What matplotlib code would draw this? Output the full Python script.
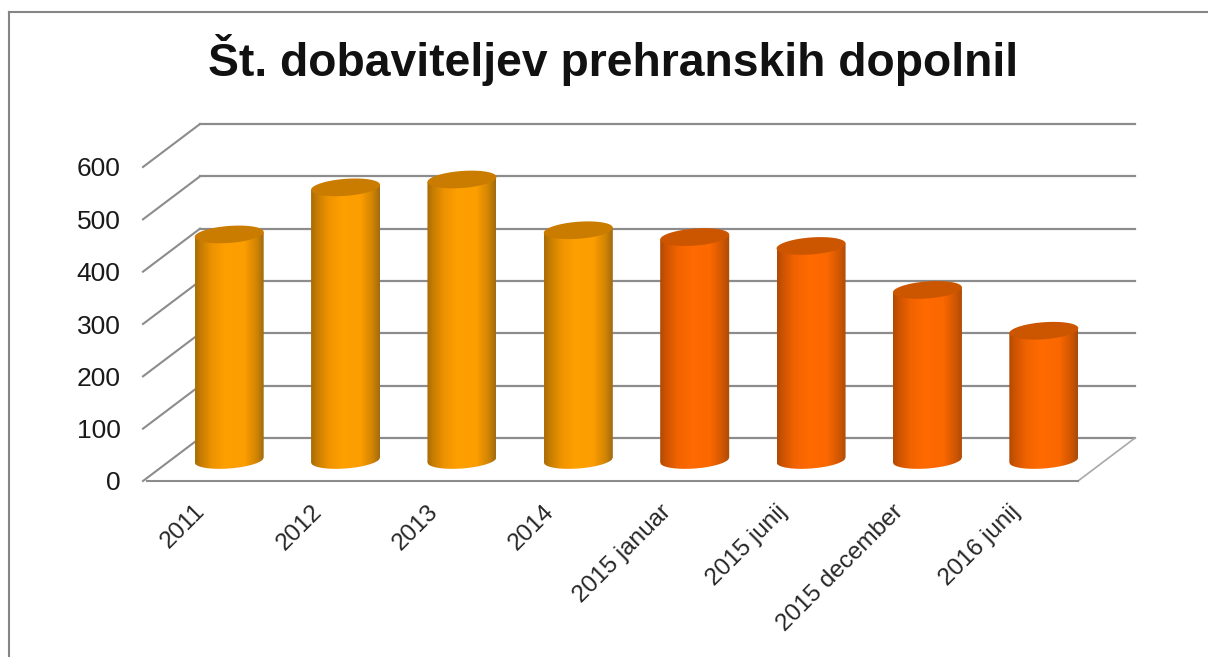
import numpy as np
import matplotlib
matplotlib.use("Agg")
import matplotlib.pyplot as plt
from matplotlib.colors import LinearSegmentedColormap
from matplotlib.patches import PathPatch
from matplotlib.path import Path
from matplotlib.transforms import ScaledTranslation

plt.rcParams["font.family"] = ["Liberation Sans", "DejaVu Sans"]

title = "Št. dobaviteljev prehranskih dopolnil"
categories = ["2011", "2012", "2013", "2014", "2015 januar",
              "2015 junij", "2015 december", "2016 junij"]
suppliers = [431, 521, 536, 439, 426, 409, 325, 247]
y_ticks = [0, 100, 200, 300, 400, 500, 600]

W, H = 1208, 657
fig = plt.figure(figsize=(W / 100, H / 100), dpi=100, facecolor="white")

# Front plane of the pseudo-3D box
ax_l, ax_r, ax_b, ax_t = 147, 1078, 481, 167
ax = fig.add_axes([ax_l / W, 1 - ax_b / H, (ax_r - ax_l) / W, (ax_b - ax_t) / H])
n = len(categories)
ax.set_xlim(0, n)
ax.set_ylim(0, 600)
ax.patch.set_alpha(0)

px_x = n / (ax_r - ax_l)
px_y = 600 / (ax_b - ax_t)

# Depth of the box, and the geometry of the cylinders, in data units
depth_left, depth_right, depth_y = 53 * px_x, 57 * px_x, 43 * px_y
radius = 34.5 * px_x
ry = 8.5 * px_y
tilt = 2.5 * px_y
shift_x, shift_y = 24 * px_x, 21 * px_y

GRID = "#8c8c8c"
for v in y_ticks:
    # back wall and side wall lines
    ax.plot([depth_left, n + depth_right], [v + depth_y] * 2,
            color=GRID, lw=1.6, clip_on=False, zorder=1)
    ax.plot([-4 * px_x, depth_left], [v, v + depth_y],
            color=GRID, lw=1.5, clip_on=False, zorder=1)
ax.plot([n, n + depth_right], [0, depth_y],
        color="#a8a8a8", lw=1.2, clip_on=False, zorder=1)
ax.plot([0, n], [0, 0], color=GRID, lw=1.5, clip_on=False, zorder=1)

cmap_light = LinearSegmentedColormap.from_list(
    "amber", [(0, "#a96c06"), (0.08, "#c47c02"), (0.25, "#ee9300"), (0.45, "#ffa000"),
              (0.72, "#fc9d00"), (0.9, "#cf8303"), (1, "#a06a10")])
cmap_dark = LinearSegmentedColormap.from_list(
    "ember", [(0, "#b04a04"), (0.08, "#cc5300"), (0.25, "#f06300"), (0.45, "#ff6a00"),
              (0.72, "#fb6800"), (0.9, "#cf5602"), (1, "#a84a0a")])
tops = ["#c97c00"] * 4 + ["#cc5500"] * 4
maps = [cmap_light] * 4 + [cmap_dark] * 4

theta = np.linspace(0, 2 * np.pi, 97)
gradient = np.linspace(0, 1, 256)[None, :]

for i, value in enumerate(suppliers):
    cx = i + 0.5 + shift_x
    base = shift_y
    xs = np.linspace(-radius, radius, 80)
    u = xs / radius
    low_bottom = base + tilt * u - ry * np.sqrt(np.clip(1 - u ** 2, 0, 1))

    # side of the cylinder: front rim at the floor up to the centre line of the top
    body = np.vstack([np.column_stack([cx + xs, low_bottom]),
                      np.column_stack([cx + xs[::-1], (base + value + tilt * u)[::-1]]),
                      [[cx - radius, low_bottom[0]]]])
    clip = PathPatch(Path(body), transform=ax.transData, fc="none", ec="none")
    ax.add_patch(clip)
    img = ax.imshow(gradient, cmap=maps[i], aspect="auto", zorder=3, interpolation="bilinear",
                    extent=[cx - radius, cx + radius, 0, base + value + 20], clip_on=True)
    img.set_clip_path(clip)

    ax.fill(cx + radius * np.cos(theta),
            base + value + tilt * np.cos(theta) + ry * np.sin(theta),
            color=tops[i], lw=0, zorder=4, clip_on=False)

ax.set_xlim(0, n)
ax.set_ylim(0, 600)

for s in ax.spines.values():
    s.set_visible(False)
ax.set_yticks(y_ticks)
ax.tick_params(axis="y", length=0, pad=19, labelsize=19, labelcolor="#1a1a1a")
ax.set_xticks(np.arange(n) + 0.5)
ax.set_xticklabels(categories, rotation=45, ha="right", va="top", rotation_mode="anchor",
                   fontsize=17.5, color="#262626")
ax.tick_params(axis="x", length=0, pad=14)
label_shift = ScaledTranslation(-11 / 100, 0, fig.dpi_scale_trans)
for label in ax.get_xticklabels():
    label.set_transform(label.get_transform() + label_shift)

fig.text(613 / W, 1 - 60 / H, title, ha="center", va="center",
         fontsize=33.3, fontweight="bold", color="#111111")

# Thin frame around the chart area
fig.add_artist(plt.Line2D([9 / W, 9 / W], [0, 1 - 12 / H], color="#858585", lw=1.5))
fig.add_artist(plt.Line2D([9 / W, 1], [1 - 12 / H, 1 - 12 / H], color="#858585", lw=1.5))

fig.savefig("out.png", dpi=100, facecolor="white")
